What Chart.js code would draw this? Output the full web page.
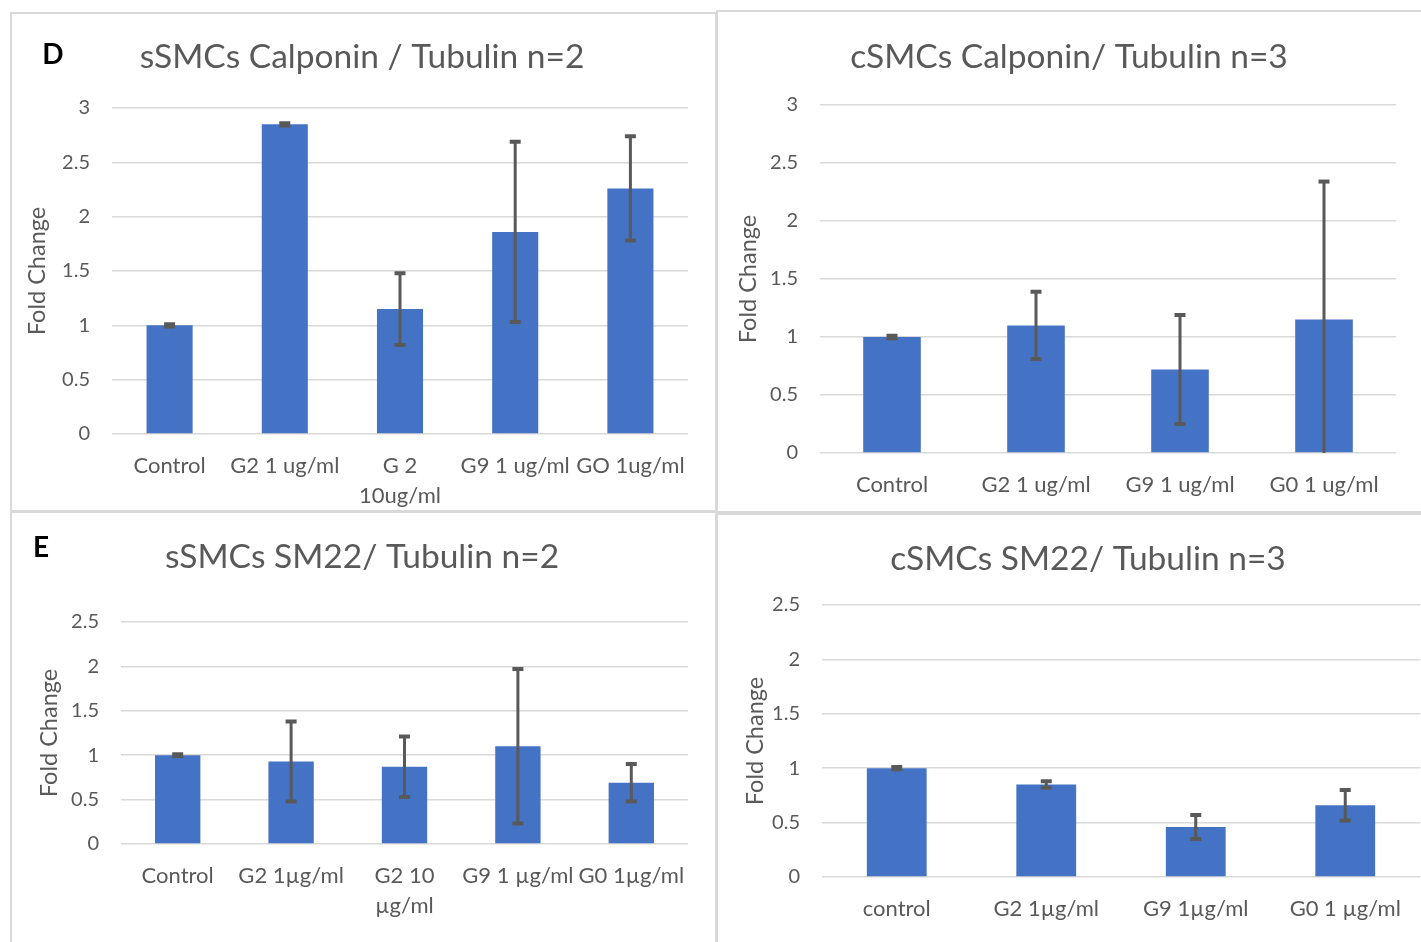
<!DOCTYPE html>
<html>
<head>
<meta charset="utf-8">
<title>Calponin / SM22 fold change</title>
<script src="https://cdn.jsdelivr.net/npm/chart.js@4.4.1/dist/chart.umd.min.js"></script>
<style>
  body { margin: 0; background: #fff; width: 1421px; height: 942px; overflow: hidden; position: relative; }
  .frame { position: absolute; border: 2px solid #d9d9d9; box-sizing: border-box; }
  .panel { position: absolute; }
</style>
</head>
<body>
<div class="frame" style="left:10px;top:12px;width:707px;height:500px"></div>
<div class="frame" style="left:716px;top:10px;width:720px;height:503px"></div>
<div class="frame" style="left:10px;top:511px;width:707px;height:440px"></div>
<div class="frame" style="left:716px;top:513px;width:720px;height:440px"></div>

<div class="panel" style="left:10px;top:12px;width:706px;height:499px"><canvas id="chartD"></canvas></div>
<div class="panel" style="left:717px;top:10px;width:704px;height:502px"><canvas id="chartC1"></canvas></div>
<div class="panel" style="left:10px;top:512px;width:706px;height:430px"><canvas id="chartE"></canvas></div>
<div class="panel" style="left:717px;top:514px;width:704px;height:428px"><canvas id="chartC2"></canvas></div>

<script>
// panel D - sSMCs calponin
const dLabels = ['Control', 'G2 1 ug/ml', ['G 2', '10ug/ml'], 'G9 1 ug/ml', 'GO 1ug/ml'];
const dValues = [1.0, 2.85, 1.15, 1.86, 2.26];
const dErrors = [0.01, 0.01, 0.33, 0.83, 0.48];

// top right - cSMCs calponin
const c1Labels = ['Control', 'G2 1 ug/ml', 'G9 1 ug/ml', 'G0 1 ug/ml'];
const c1Values = [1.0, 1.1, 0.72, 1.15];
const c1Errors = [0.01, 0.29, 0.47, 1.19];

// panel E - sSMCs SM22
const eLabels = ['Control', 'G2 1\u00b5g/ml', ['G2 10', '\u00b5g/ml'], 'G9 1 \u00b5g/ml', 'G0 1\u00b5g/ml'];
const eValues = [1.0, 0.93, 0.87, 1.1, 0.69];
const eErrors = [0.01, 0.45, 0.34, 0.87, 0.21];

// bottom right - cSMCs SM22
const c2Labels = ['control', 'G2 1\u00b5g/ml', 'G9 1\u00b5g/ml', 'G0 1 \u00b5g/ml'];
const c2Values = [1.0, 0.85, 0.46, 0.66];
const c2Errors = [0.01, 0.03, 0.11, 0.14];

const FONT = 'Lato, "Open Sans", sans-serif';
const GREY = '#595959';

// title + panel letter drawn at fixed spots
const panelText = {
  id: 'panelText',
  afterDraw(chart, args, opts) {
    const ctx = chart.ctx;
    ctx.save();
    ctx.textAlign = 'center';
    ctx.textBaseline = 'middle';
    ctx.fillStyle = GREY;
    ctx.font = '33.5px ' + FONT;
    ctx.fillText(opts.title, opts.tx, opts.ty);
    if (opts.letter) {
      ctx.fillStyle = '#000';
      ctx.font = 'bold 28px ' + FONT;
      ctx.fillText(opts.letter, opts.lx, opts.ly);
    }
    ctx.restore();
  }
};

// +/- error bars, clipped at the 0 baseline
const errorBars = {
  id: 'errorBars',
  afterDatasetsDraw(chart, args, opts) {
    const ctx = chart.ctx;
    const xs = chart.scales.x, ys = chart.scales.y;
    const vals = chart.data.datasets[0].data;
    ctx.save();
    ctx.strokeStyle = GREY;
    vals.forEach(function (v, i) {
      const e = opts.errors[i];
      const px = xs.getPixelForValue(i);
      const top = ys.getPixelForValue(v + e);
      const lo = v - e;
      const bot = ys.getPixelForValue(Math.max(0, lo));
      ctx.lineWidth = 3;
      ctx.beginPath();
      ctx.moveTo(px, top);
      ctx.lineTo(px, bot);
      ctx.stroke();
      ctx.lineWidth = 4;
      ctx.beginPath();
      ctx.moveTo(px - 5.5, top);
      ctx.lineTo(px + 5.5, top);
      if (lo >= 0) {
        ctx.moveTo(px - 5.5, bot);
        ctx.lineTo(px + 5.5, bot);
      }
      ctx.stroke();
    });
    ctx.restore();
  }
};

function makeChart(id, labels, values, errors, c) {
  return new Chart(document.getElementById(id), {
    type: 'bar',
    data: {
      labels: labels,
      datasets: [{ data: values, backgroundColor: '#4472c4', barPercentage: 0.4, categoryPercentage: 1 }]
    },
    options: {
      responsive: true,
      maintainAspectRatio: false,
      animation: false,
      layout: { padding: { left: c.padLeft, top: c.padTop, right: c.padRight, bottom: 0 } },
      plugins: {
        legend: { display: false },
        tooltip: { enabled: false },
        panelText: c.text,
        errorBars: { errors: errors }
      },
      scales: {
        x: {
          grid: { display: false },
          border: { display: false },
          ticks: { color: GREY, font: { family: FONT, size: 22, lineHeight: 1.36 }, padding: 9, maxRotation: 0, autoSkip: false },
          afterFit: function (s) { s.height = c.xHeight; }
        },
        y: {
          min: 0,
          max: c.yMax,
          grid: { color: '#d9d9d9', lineWidth: 1.5, drawTicks: false },
          border: { display: false },
          ticks: { stepSize: 0.5, color: GREY, padding: 22, font: { family: FONT, size: 20 }, callback: v => String(v) },
          title: { display: true, text: 'Fold Change', color: GREY, padding: 0, font: { family: FONT, size: 23.5 } },
          afterFit: function (s) { s.width = c.yWidth; }
        }
      }
    },
    plugins: [errorBars, panelText]
  });
}

makeChart('chartD', dLabels, dValues, dErrors, {
  padLeft: 13, padTop: 96, padRight: 28, yWidth: 89, xHeight: 77, yMax: 3,
  text: { title: 'sSMCs Calponin / Tubulin n=2', tx: 352, ty: 45, letter: 'D', lx: 43, ly: 43 }
});
makeChart('chartC1', c1Labels, c1Values, c1Errors, {
  padLeft: 17, padTop: 95, padRight: 25, yWidth: 86, xHeight: 59, yMax: 3,
  text: { title: 'cSMCs Calponin/ Tubulin n=3', tx: 352, ty: 47 }
});
makeChart('chartE', eLabels, eValues, eErrors, {
  padLeft: 25, padTop: 110, padRight: 28, yWidth: 86, xHeight: 98, yMax: 2.5,
  text: { title: 'sSMCs SM22/ Tubulin n=2', tx: 352, ty: 45, letter: 'E', lx: 31, ly: 36 }
});
makeChart('chartC2', c2Labels, c2Values, c2Errors, {
  padLeft: 24, padTop: 91, padRight: 1, yWidth: 81, xHeight: 65, yMax: 2.5,
  text: { title: 'cSMCs SM22/ Tubulin n=3', tx: 371, ty: 45 }
});
</script>
</body>
</html>
